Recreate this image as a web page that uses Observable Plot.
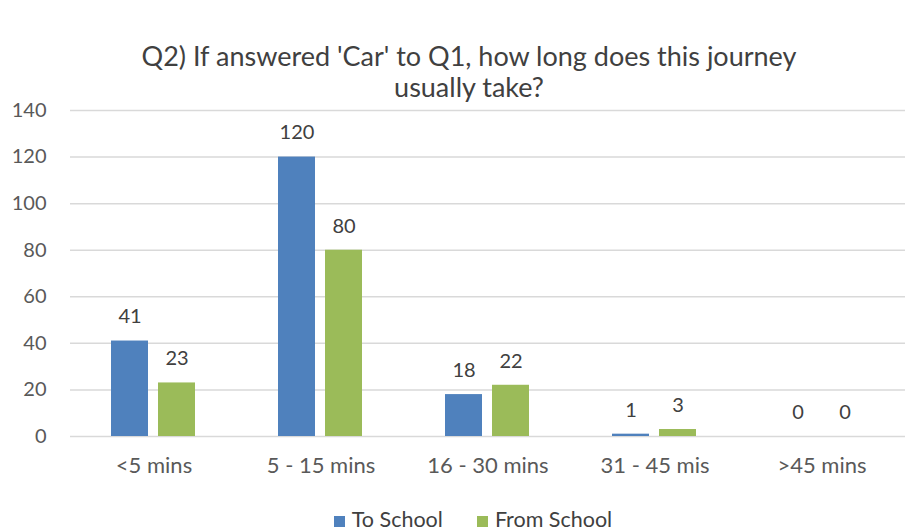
<!DOCTYPE html>
<html><head><meta charset="utf-8">
<script src="https://cdn.jsdelivr.net/npm/d3@7"></script>
<script src="https://cdn.jsdelivr.net/npm/@observablehq/plot@0.6"></script>
<style>
body{margin:0;background:#fff;font-family:Lato,"Open Sans",sans-serif;}
#wrap{position:relative;width:908px;height:531px;background:#fff;}
#title{position:absolute;top:40px;left:15px;width:908px;text-align:center;font-size:27px;line-height:31px;color:#404040;z-index:2;}
#chart{position:absolute;top:80px;left:0;z-index:1;}
#legend{position:absolute;top:506px;left:19px;width:908px;text-align:center;font-size:21.5px;color:#404040;}
#legend span.sw{display:inline-block;width:11px;height:11px;margin-right:7px;vertical-align:0px;}
#legend span.it{margin:0 17px;}
</style></head>
<body><div id="wrap">
<div id="chart"></div>
<div id="title">Q2) If answered 'Car' to Q1, how long does this journey<br>usually take?</div>
<div id="legend"></div>
</div>
<script>
const categories = ["<5 mins", "5 - 15 mins", "16 - 30 mins", "31 - 45 mis", ">45 mins"];
const series = ["To School", "From School"];
const toSchool = [41, 120, 18, 1, 0];
const fromSchool = [23, 80, 22, 3, 0];
const colors = ["#4F81BD", "#9BBB59"];
const yTicks = [0, 20, 40, 60, 80, 100, 120, 140];

const data = [];
categories.forEach((c, i) => {
  data.push({cat: c, series: series[0], value: toSchool[i]});
  data.push({cat: c, series: series[1], value: fromSchool[i]});
});

const chart = Plot.plot({
  width: 908, height: 410,
  marginTop: 30, marginBottom: 54, marginLeft: 70, marginRight: 3,
  style: {fontFamily: "Lato, 'Open Sans', sans-serif", fontSize: "19px", color: "#595959", background: "transparent"},
  fx: {domain: categories, padding: 0, label: null},
  x: {domain: series, paddingInner: 0.208, paddingOuter: 0.844, axis: null},
  y: {domain: [0, 140], label: null},
  color: {domain: series, range: colors},
  marks: [
    Plot.ruleY(yTicks, {stroke: "#d9d9d9", strokeWidth: 1.5}),
    Plot.axisY(yTicks, {tickSize: 0, tickPadding: 24, fontSize: 20, label: null, fill: "#595959"}),
    Plot.axisFx({anchor: "bottom", tickSize: 0, tickPadding: 21, fontSize: 22, label: null, fill: "#595959"}),
    Plot.barY(data, {fx: "cat", x: "series", y: "value", fill: "series"}),
    Plot.text(data, {fx: "cat", x: "series", y: "value", text: d => String(d.value), dy: -24, fill: "#404040", fontSize: 20})
  ]
});
document.getElementById("chart").appendChild(chart);

const leg = document.getElementById("legend");
series.forEach((s, i) => {
  const it = document.createElement("span");
  it.className = "it";
  it.innerHTML = `<span class="sw" style="background:${colors[i]}"></span>${s}`;
  leg.appendChild(it);
});
</script>
</body></html>
